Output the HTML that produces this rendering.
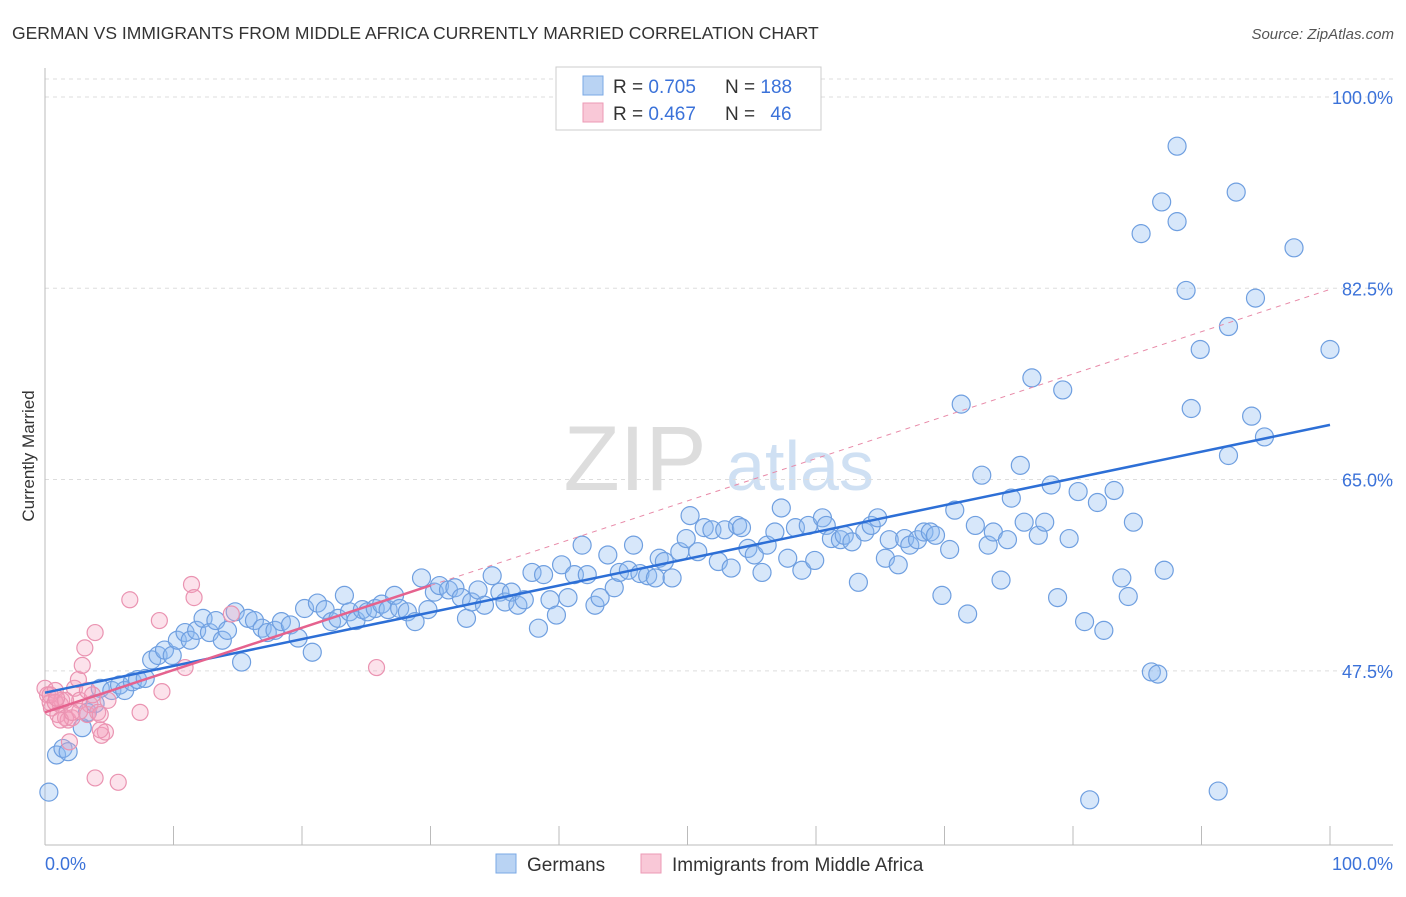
<!DOCTYPE html>
<html><head><meta charset="utf-8"><style>
body{margin:0;background:#fff;font-family:"Liberation Sans",sans-serif}
svg text{font-family:"Liberation Sans",sans-serif}
</style></head><body>
<svg id="chart" width="1406" height="892">
<text x="12" y="39" font-size="17.5" fill="#333">GERMAN VS IMMIGRANTS FROM MIDDLE AFRICA CURRENTLY MARRIED CORRELATION CHART</text>
<text x="1394" y="39" font-size="15" fill="#555" text-anchor="end" font-style="italic">Source: ZipAtlas.com</text>
<text x="34" y="456" font-size="17" fill="#333" text-anchor="middle" transform="rotate(-90 34 456)">Currently Married</text>
<g><text x="635" y="490" font-size="92" fill="#ddd" font-family="Liberation Serif" text-anchor="middle">ZIP</text><text x="800" y="490" font-size="70" fill="#cfe0f3" text-anchor="middle">atlas</text></g>
<g id="grid"></g><g id="axes"></g><g id="marks"></g>
<g>
<rect x="556" y="67" width="265" height="63" fill="#fff" stroke="#ccc"/>
<rect x="583" y="76" width="20" height="19" fill="#b9d3f3" stroke="#7aa8e6"/>
<rect x="583" y="103" width="20" height="19" fill="#f9c8d7" stroke="#ec9ab5"/>
<text x="613" y="93" font-size="19" fill="#333">R = <tspan fill="#3b72d9">0.705</tspan></text>
<text x="725" y="93" font-size="19" fill="#333">N = <tspan fill="#3b72d9">188</tspan></text>
<text x="613" y="120" font-size="19" fill="#333">R = <tspan fill="#3b72d9">0.467</tspan></text>
<text x="725" y="120" font-size="19" fill="#333">N = <tspan fill="#3b72d9" dx="10">46</tspan></text>
</g>
<g>
<rect x="496" y="854" width="20" height="19" fill="#b9d3f3" stroke="#7aa8e6"/>
<text x="527" y="871" font-size="19" fill="#333">Germans</text>
<rect x="641" y="854" width="20" height="19" fill="#f9c8d7" stroke="#ec9ab5"/>
<text x="672" y="871" font-size="19" fill="#333">Immigrants from Middle Africa</text>
</g>
</svg>
<script>
const yTicks=[100,82.5,65,47.5];
const yTickLabels=["100.0%","82.5%","65.0%","47.5%"];
const xTickLabels=["0.0%","100.0%"];
const blueX=[0.3,0.9,1.4,1.8,2.9,3.3,3.9,4.3,5.2,5.8,6.2,6.8,7.2,7.8,8.3,8.8,9.3,9.9,10.3,10.9,11.3,11.8,12.3,12.8,13.3,13.8,14.2,14.8,15.3,15.8,16.3,16.9,17.3,17.9,18.4,19.1,19.7,20.2,20.8,21.2,21.8,22.3,22.8,23.3,23.7,24.2,24.7,25.1,25.7,26.2,26.7,27.2,27.6,28.2,28.8,29.3,29.8,30.3,30.7,31.4,31.9,32.4,32.8,33.2,33.7,34.2,34.8,35.4,35.8,36.3,36.8,37.3,37.9,38.4,38.8,39.3,39.8,40.2,40.7,41.2,41.8,42.2,42.8,43.2,43.8,44.3,44.7,45.4,45.8,46.3,46.9,47.5,47.8,48.2,48.8,49.4,49.9,50.2,50.8,51.3,51.9,52.4,52.9,53.4,53.9,54.2,54.7,55.2,55.8,56.2,56.8,57.3,57.8,58.4,58.9,59.4,59.9,60.5,60.8,61.2,61.9,62.2,62.8,63.3,63.8,64.3,64.8,65.4,65.7,66.4,66.9,67.3,67.9,68.4,68.9,69.3,69.8,70.4,70.8,71.3,71.8,72.4,72.9,73.4,73.8,74.4,74.9,75.2,75.9,76.2,76.8,77.3,77.8,78.3,78.8,79.2,79.7,80.4,80.9,81.3,81.9,82.4,83.2,83.8,84.3,84.7,85.3,86.1,86.6,86.9,87.1,88.1,88.1,88.8,89.2,89.9,91.3,92.1,92.1,92.7,93.9,94.2,94.9,97.2,100.0];
const blueY=[36.4,39.8,40.4,40.1,42.3,43.7,44.5,45.9,45.7,46.2,45.7,46.5,46.7,46.8,48.5,48.9,49.4,48.9,50.3,51.0,50.3,51.2,52.3,51.0,52.1,50.3,51.2,52.9,48.3,52.3,52.1,51.4,51.0,51.2,52.0,51.7,50.5,53.2,49.2,53.7,53.1,52.0,52.3,54.4,52.9,52.1,53.1,52.9,53.2,53.6,53.1,54.4,53.2,52.9,52.0,56.0,53.1,54.7,55.3,54.9,55.1,54.2,52.3,53.8,54.9,53.5,56.2,54.7,53.8,54.7,53.5,54.0,56.5,51.4,56.3,54.0,52.6,57.2,54.2,56.3,59.0,56.3,53.5,54.2,58.1,55.1,56.5,56.7,59.0,56.4,56.2,56.0,57.8,57.5,56.0,58.4,59.6,61.7,58.4,60.6,60.4,57.5,60.4,56.9,60.8,60.6,58.7,58.1,56.5,59.0,60.2,62.4,57.8,60.6,56.7,60.8,57.6,61.5,60.8,59.6,59.5,59.9,59.3,55.6,60.2,60.8,61.5,57.8,59.5,57.2,59.6,59.0,59.5,60.2,60.2,59.9,54.4,58.6,62.2,71.9,52.7,60.8,65.4,59.0,60.2,55.8,59.5,63.3,66.3,61.1,74.3,59.9,61.1,64.5,54.2,73.2,59.6,63.9,52.0,35.7,62.9,51.2,64.0,56.0,54.3,61.1,87.5,47.4,47.2,90.4,56.7,95.5,88.6,82.3,71.5,76.9,36.5,79.0,67.2,91.3,70.8,81.6,68.9,86.2,76.9];
const pinkX=[0,0.2,0.4,0.5,0.8,1.0,1.2,1.3,1.6,1.8,1.9,2.1,2.3,2.6,2.7,2.9,3.1,3.3,3.5,3.7,3.9,3.9,4.1,4.3,4.4,4.7,4.9,5.7,6.6,7.4,8.9,9.1,10.9,11.4,11.6,14.5,25.8,1.2,0.4,0.8,2.7,2.1,1.6,3.3,4.3,0.9];
const pinkY=[45.9,45.3,44.6,44.1,45.7,43.5,44.4,44.8,43.2,43.0,41.0,43.2,45.9,46.7,44.8,48.0,49.6,43.5,44.4,45.3,51.0,37.7,43.7,43.5,41.6,41.9,44.8,37.3,54.0,43.7,52.1,45.6,47.8,55.4,54.2,52.7,47.8,43.0,45.3,44.6,43.8,43.7,44.8,45.7,42.1,45.0];
const blueFit=[45.5,70.0];
const pinkFit=[43.7,82.4];
const pinkSolidEnd=30;

const NS="http://www.w3.org/2000/svg";
const X0=45,X1=1330,YT=97,PX=10.93;
const xs=v=>X0+(X1-X0)*v/100;
const ys=v=>YT+(100-v)*PX;
function mk(tag,attrs,parent){const e=document.createElementNS(NS,tag);for(const k in attrs)e.setAttribute(k,attrs[k]);parent.appendChild(e);return e;}
const gridG=document.getElementById('grid'),axesG=document.getElementById('axes'),marksG=document.getElementById('marks');
const topLine=mk('line',{x1:X0,x2:1393,y1:79,y2:79,stroke:'#ddd','stroke-dasharray':'4,4'},gridG);


yTicks.forEach((t,i)=>{
  const g=mk('line',{x1:X0,x2:1393,y1:ys(t),y2:ys(t),stroke:'#ddd','stroke-dasharray':'4,4'},gridG);
  
  
  const tx=mk('text',{x:1393,y:ys(t)+7,'font-size':18,fill:'#3b72d9','text-anchor':'end'},axesG);
  tx.textContent=yTickLabels[i];
  
  
});
const yAx=mk('line',{x1:X0,x2:X0,y1:68,y2:845,stroke:'#bbb'},axesG);


const xAx=mk('line',{x1:X0,x2:1393,y1:845,y2:845,stroke:'#bbb'},axesG);


for(let i=0;i<=10;i++){
  const t=mk('line',{x1:xs(i*10),x2:xs(i*10),y1:826,y2:845,stroke:'#bbb'},axesG);
  
  
}
[[0,'start',45],[100,'end',1393]].forEach((d,i)=>{
  const t=mk('text',{x:d[2],y:870,'font-size':18,fill:'#3b72d9','text-anchor':d[1]},axesG);
  t.textContent=xTickLabels[i];
  
  
});
blueX.forEach((x,i)=>{
  const c=mk('circle',{cx:xs(x),cy:ys(blueY[i]),r:9,fill:'rgba(140,185,240,0.35)',stroke:'#6f9fe0','stroke-width':1.2},marksG);
  
  
});
pinkX.forEach((x,i)=>{
  const c=mk('circle',{cx:xs(x),cy:ys(pinkY[i]),r:8,fill:'rgba(245,160,190,0.3)',stroke:'#ea93b1','stroke-width':1.2},marksG);
  
  
});
const pAt=v=>pinkFit[0]+(pinkFit[1]-pinkFit[0])*v/100;
const pd=mk('line',{x1:xs(pinkSolidEnd),y1:ys(pAt(pinkSolidEnd)),x2:xs(100),y2:ys(pinkFit[1]),stroke:'#e88aa8','stroke-width':1,'stroke-dasharray':'5,5'},marksG);


const bl=mk('line',{x1:xs(0),y1:ys(blueFit[0]),x2:xs(100),y2:ys(blueFit[1]),stroke:'#2d6fd6','stroke-width':2.5},marksG);


const pl=mk('line',{x1:xs(0),y1:ys(pinkFit[0]),x2:xs(pinkSolidEnd),y2:ys(pAt(pinkSolidEnd)),stroke:'#e5628e','stroke-width':2.5},marksG);


</script>
</body></html>
